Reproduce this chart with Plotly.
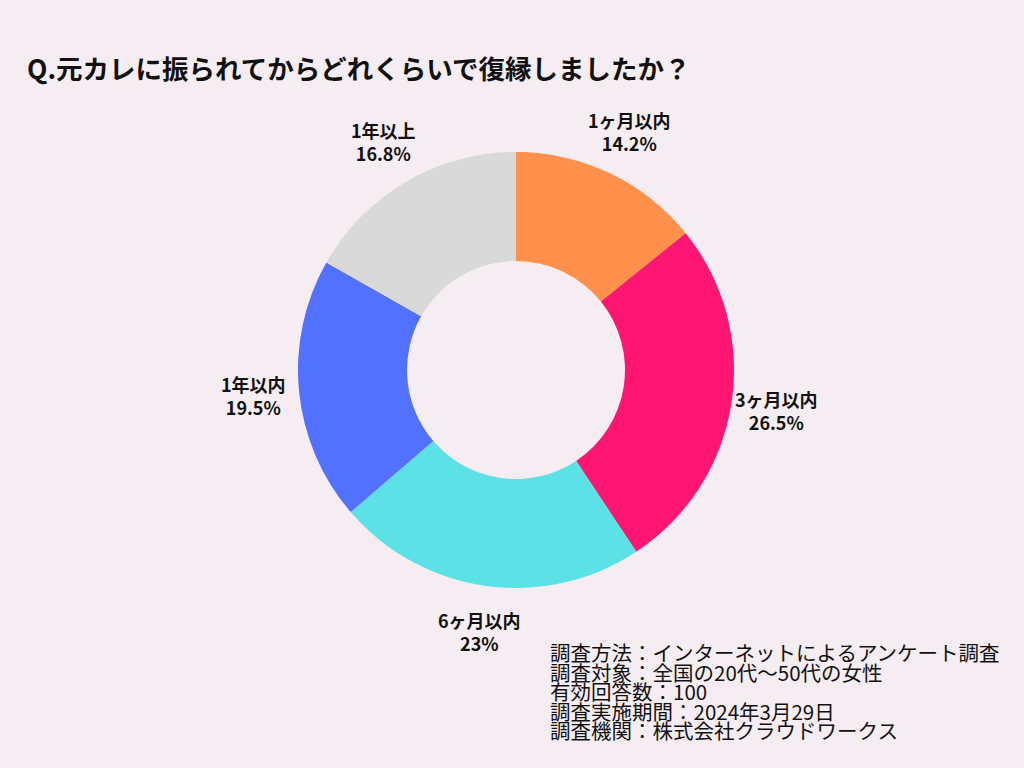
import math
import plotly.graph_objects as go

labels = ["1ヶ月以内", "3ヶ月以内", "6ヶ月以内", "1年以内", "1年以上"]
values = [14.2, 26.5, 23, 19.5, 16.8]
colors = ["#FF914D", "#FF1672", "#5CE1E6", "#5271FF", "#D9D9D9"]
title = "Q.元カレに振られてからどれくらいで復縁しましたか？"
notes = [
    "調査方法：インターネットによるアンケート調査",
    "調査対象：全国の20代～50代の女性",
    "有効回答数：100",
    "調査実施期間：2024年3月29日",
    "調査機関：株式会社クラウドワークス",
]

W, H = 1024, 768
cx, cy, R = 516, 370, 218
BG = "#F5EDF1"
FONT = "Noto Sans CJK JP"

fig = go.Figure(go.Pie(
    labels=labels, values=values,
    marker=dict(colors=colors, line=dict(width=0)),
    hole=0.5, sort=False, direction="clockwise", rotation=0,
    textinfo="none", hoverinfo="label+percent",
    domain=dict(x=[(cx - R) / W, (cx + R) / W], y=[1 - (cy + R) / H, 1 - (cy - R) / H]),
    showlegend=False,
))

# 外側ラベル（各スライスの中央角に配置）
total = sum(values)
acc = 0
for lab, v in zip(labels, values):
    mid = (acc + v / 2) / total * 2 * math.pi
    acc += v
    rl = 264
    px = cx + rl * math.sin(mid)
    py = cy - rl * math.cos(mid)
    fig.add_annotation(
        x=px / W, y=1 - py / H, xref="paper", yref="paper",
        xanchor="center", yanchor="middle",
        text=f"<b>{lab}<br>{v:g}%</b>", showarrow=False,
        font=dict(family=FONT, size=18, color="#111111"), align="center",
    )

fig.add_annotation(
    x=25 / W, y=1 - 68 / H, xref="paper", yref="paper", xanchor="left", yanchor="middle",
    text=f"<b>{title}</b>", showarrow=False,
    font=dict(family=FONT, size=26.5, color="#111111"),
)

for i, line in enumerate(notes):
    fig.add_annotation(
        x=548 / W, y=1 - (652 + i * 19.5) / H, xref="paper", yref="paper",
        xanchor="left", yanchor="middle", text=line, showarrow=False,
        font=dict(family=FONT, size=20.5, color="#111111"),
    )

fig.update_layout(
    width=W, height=H,
    margin=dict(l=0, r=0, t=0, b=0),
    paper_bgcolor=BG, plot_bgcolor=BG,
)

fig.write_html("out.html", config={"displayModeBar": False},
               post_script="document.body.style.margin='0';document.body.style.overflow='hidden';")
